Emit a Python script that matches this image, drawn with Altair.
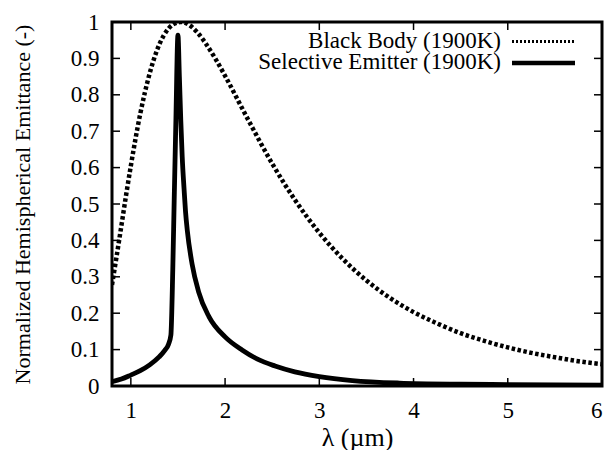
import altair as alt
import pandas as pd

# Black body (1900K), normalized spectral emittance
bb_lambda = [0.80, 0.85, 0.90, 0.95, 1.00, 1.10, 1.20, 1.30, 1.40, 1.50, 1.525, 1.60, 1.70, 1.80,
             1.90, 2.00, 2.25, 2.50, 2.75, 3.00, 3.25, 3.50, 3.75, 4.00, 4.25, 4.50, 4.75,
             5.00, 5.25, 5.50, 5.75, 6.00]
bb_value = [0.278, 0.358, 0.441, 0.525, 0.605, 0.748, 0.859, 0.937, 0.982, 0.999, 1.000, 0.995, 0.973, 0.939,
            0.898, 0.852, 0.729, 0.611, 0.508, 0.421, 0.349, 0.290, 0.242, 0.203, 0.172, 0.145, 0.124,
            0.106, 0.091, 0.079, 0.068, 0.060]

# Selective emitter (1900K)
se_lambda = [0.80, 0.90, 1.00, 1.10, 1.20, 1.30, 1.36, 1.40, 1.425, 1.445, 1.46, 1.478, 1.50,
             1.515, 1.53, 1.545, 1.565, 1.58, 1.60, 1.65, 1.72, 1.83, 2.00, 2.18, 2.35, 2.53, 2.74,
             3.00, 3.35, 3.85, 4.50, 5.00, 6.00]
se_value = [0.012, 0.019, 0.030, 0.042, 0.058, 0.080, 0.098, 0.115, 0.140, 0.320, 0.510, 0.730, 0.964,
            0.850, 0.730, 0.630, 0.540, 0.480, 0.425, 0.335, 0.258, 0.190, 0.135, 0.099, 0.073, 0.055, 0.039,
            0.026, 0.015, 0.008, 0.005, 0.004, 0.002]

x_ticks = [1, 2, 3, 4, 5, 6]
y_ticks = [0, 0.1, 0.2, 0.3, 0.4, 0.5, 0.6, 0.7, 0.8, 0.9, 1.0]
legend_labels = ["Black Body (1900K)", "Selective Emitter (1900K)"]

W, H = 490, 364
FONT = "Liberation Serif"

bb = pd.DataFrame({"lam": bb_lambda, "val": bb_value})
se = pd.DataFrame({"lam": se_lambda, "val": se_value})
xt = pd.DataFrame({"lam": x_ticks})
yt = pd.DataFrame({"val": y_ticks})

xscale = alt.Scale(domain=[0.8, 6], nice=False, zero=False)
yscale = alt.Scale(domain=[0, 1], nice=False)

xaxis = alt.Axis(values=x_ticks, format="~g", title="λ (µm)", labelPadding=13, titlePadding=2,
                 titleFontSize=26, titleFontWeight="normal", labelOverlap=False)
yaxis = alt.Axis(values=y_ticks, format="~g", title="Normalized Hemispherical Emittance (-)",
                 labelPadding=13, titlePadding=36, titleFontSize=22, titleFontWeight="normal",
                 labelOverlap=False)

X = alt.X("lam:Q", scale=xscale, axis=xaxis)
Y = alt.Y("val:Q", scale=yscale, axis=yaxis)

bb_line = alt.Chart(bb).mark_line(color="black", strokeWidth=4.5, strokeDash=[3.5, 2.5],
                                  interpolate="monotone", clip=True).encode(x=X, y=Y)
se_line = alt.Chart(se).mark_line(color="black", strokeWidth=4.8,
                                  interpolate="monotone", clip=True).encode(x=X, y=Y)

tick_len = 8
xb = alt.Chart(xt).mark_rule(color="black", strokeWidth=1.5).encode(
    x=X, y=alt.value(H), y2=alt.value(H - tick_len))
xtop = alt.Chart(xt).mark_rule(color="black", strokeWidth=1.5).encode(
    x=X, y=alt.value(0), y2=alt.value(tick_len))
yl = alt.Chart(yt).mark_rule(color="black", strokeWidth=1.5).encode(
    y=Y, x=alt.value(0), x2=alt.value(tick_len))
yr = alt.Chart(yt).mark_rule(color="black", strokeWidth=1.5).encode(
    y=Y, x=alt.value(W), x2=alt.value(W - tick_len))

leg_rows = [18.5, 40]
leg1_text = alt.Chart(pd.DataFrame({"label": [legend_labels[0]]})).mark_text(
    align="right", baseline="middle", font=FONT, fontSize=23, color="black").encode(
    text="label:N", x=alt.value(389), y=alt.value(leg_rows[0]))
leg2_text = alt.Chart(pd.DataFrame({"label": [legend_labels[1]]})).mark_text(
    align="right", baseline="middle", font=FONT, fontSize=23, color="black").encode(
    text="label:N", x=alt.value(389), y=alt.value(leg_rows[1]))
leg1_line = alt.Chart(pd.DataFrame({"label": [legend_labels[0]]})).mark_rule(
    color="black", strokeWidth=3, strokeDash=[2, 2]).encode(
    x=alt.value(400), x2=alt.value(463), y=alt.value(leg_rows[0] + 1))
leg2_line = alt.Chart(pd.DataFrame({"label": [legend_labels[1]]})).mark_rule(
    color="black", strokeWidth=4.5).encode(
    x=alt.value(400), x2=alt.value(463), y=alt.value(leg_rows[1] + 1))

chart = alt.layer(
    bb_line, se_line, xb, xtop, yl, yr, leg1_text, leg2_text, leg1_line, leg2_line
).properties(
    width=W, height=H,
    autosize=alt.AutoSizeParams(type="none"),
    padding={"left": 104, "top": 14, "right": 2, "bottom": 64},
).configure_view(
    stroke="black", strokeWidth=3
).configure_axis(
    domain=False, ticks=False, grid=False,
    labelFont=FONT, titleFont=FONT, labelFontSize=23, labelColor="black", titleColor="black",
)

chart.save("out.html", embed_options={"renderer": "svg", "actions": False})
